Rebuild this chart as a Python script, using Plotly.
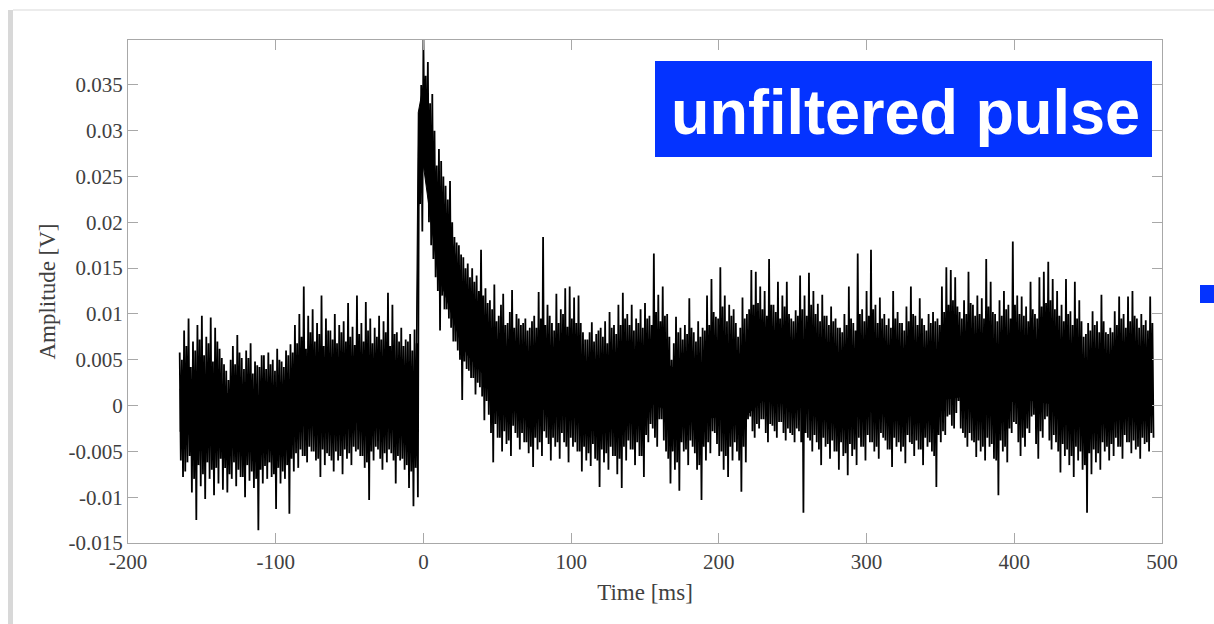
import plotly.graph_objects as go

# sample grid of the trace (ms), 3 ms per column group
time_ms = list(range(-165, 493, 3))

# tallest upward excursion in each 3 ms group (V)
amp_hi = [
    0.0058, 0.0082, 0.0095, 0.0070, 0.0088, 0.0098, 0.0075, 0.0096, 0.0085, 0.0062,
    0.0045, 0.0028, 0.0065, 0.0077, 0.0052, 0.0060, 0.0068, 0.0048, 0.0042, 0.0055,
    0.0058, 0.0050, 0.0062, 0.0048, 0.0060, 0.0067, 0.0088, 0.0100, 0.0130, 0.0098,
    0.0105, 0.0090, 0.0120, 0.0095, 0.0082, 0.0100, 0.0088, 0.0092, 0.0112, 0.0086,
    0.0120, 0.0090, 0.0113, 0.0095, 0.0085, 0.0098, 0.0092, 0.0123, 0.0110, 0.0080,
    0.0085, 0.0072, 0.0078, 0.0083, 0.0320, 0.0399, 0.0375, 0.0340, 0.0262, 0.0267,
    0.0240, 0.0245, 0.0184, 0.0175, 0.0162, 0.0155, 0.0150, 0.0142, 0.0170, 0.0128,
    0.0115, 0.0132, 0.0098, 0.0122, 0.0090, 0.0126, 0.0100, 0.0088, 0.0095, 0.0085,
    0.0098, 0.0124, 0.0184, 0.0110, 0.0090, 0.0122, 0.0105, 0.0128, 0.0130, 0.0118,
    0.0120, 0.0080, 0.0072, 0.0091, 0.0078, 0.0085, 0.0092, 0.0102, 0.0088, 0.0110,
    0.0123, 0.0100, 0.0110, 0.0095, 0.0105, 0.0112, 0.0098, 0.0166, 0.0121, 0.0130,
    0.0100, 0.0050, 0.0097, 0.0085, 0.0088, 0.0117, 0.0080, 0.0092, 0.0085, 0.0120,
    0.0138, 0.0097, 0.0151, 0.0120, 0.0110, 0.0105, 0.0075, 0.0118, 0.0100, 0.0148,
    0.0146, 0.0130, 0.0125, 0.0160, 0.0110, 0.0135, 0.0120, 0.0135, 0.0095, 0.0104,
    0.0142, 0.0120, 0.0145, 0.0125, 0.0111, 0.0121, 0.0098, 0.0108, 0.0095, 0.0085,
    0.0100, 0.0130, 0.0090, 0.0166, 0.0105, 0.0125, 0.0170, 0.0110, 0.0118, 0.0100,
    0.0095, 0.0125, 0.0102, 0.0090, 0.0108, 0.0130, 0.0098, 0.0117, 0.0088, 0.0100,
    0.0102, 0.0095, 0.0130, 0.0151, 0.0148, 0.0140, 0.0102, 0.0115, 0.0146, 0.0110,
    0.0120, 0.0117, 0.0160, 0.0135, 0.0100, 0.0115, 0.0125, 0.0110, 0.0179, 0.0120,
    0.0119, 0.0108, 0.0135, 0.0100, 0.0140, 0.0146, 0.0157, 0.0138, 0.0125, 0.0110,
    0.0138, 0.0103, 0.0135, 0.0115, 0.0075, 0.0090, 0.0103, 0.0092, 0.0121, 0.0080,
    0.0085, 0.0103, 0.0119, 0.0100, 0.0119, 0.0125, 0.0095, 0.0100, 0.0093, 0.0119,
]

# secondary (intermediate) upward excursion in each 3 ms group (V)
amp_hi_b = [
    0.0050, 0.0065, 0.0042, 0.0060, 0.0072, 0.0055, 0.0068, 0.0048, 0.0070, 0.0052,
    0.0038, 0.0050, 0.0045, 0.0058, 0.0040, 0.0052, 0.0035, 0.0044, 0.0055, 0.0040,
    0.0045, 0.0038, 0.0050, 0.0042, 0.0055, 0.0058, 0.0068, 0.0075, 0.0062, 0.0080,
    0.0070, 0.0078, 0.0065, 0.0082, 0.0072, 0.0068, 0.0080, 0.0070, 0.0075, 0.0066,
    0.0078, 0.0070, 0.0082, 0.0068, 0.0075, 0.0072, 0.0080, 0.0065, 0.0078, 0.0070,
    0.0065, 0.0070, 0.0060, 0.0068, 0.0350, 0.0360, 0.0330, 0.0300, 0.0280, 0.0250,
    0.0225, 0.0200, 0.0178, 0.0165, 0.0150, 0.0140, 0.0135, 0.0125, 0.0120, 0.0112,
    0.0105, 0.0092, 0.0110, 0.0088, 0.0102, 0.0085, 0.0095, 0.0090, 0.0082, 0.0092,
    0.0085, 0.0095, 0.0088, 0.0098, 0.0082, 0.0090, 0.0100, 0.0086, 0.0095, 0.0090,
    0.0090, 0.0072, 0.0080, 0.0070, 0.0082, 0.0075, 0.0068, 0.0085, 0.0078, 0.0088,
    0.0095, 0.0088, 0.0082, 0.0090, 0.0085, 0.0095, 0.0088, 0.0102, 0.0092, 0.0098,
    0.0075, 0.0068, 0.0080, 0.0072, 0.0078, 0.0085, 0.0070, 0.0075, 0.0082, 0.0088,
    0.0102, 0.0095, 0.0108, 0.0092, 0.0098, 0.0090, 0.0085, 0.0095, 0.0105, 0.0110,
    0.0112, 0.0105, 0.0098, 0.0110, 0.0102, 0.0095, 0.0108, 0.0100, 0.0092, 0.0098,
    0.0105, 0.0098, 0.0110, 0.0100, 0.0092, 0.0098, 0.0088, 0.0092, 0.0085, 0.0080,
    0.0088, 0.0095, 0.0082, 0.0100, 0.0092, 0.0098, 0.0105, 0.0090, 0.0095, 0.0088,
    0.0085, 0.0095, 0.0090, 0.0082, 0.0092, 0.0100, 0.0088, 0.0095, 0.0082, 0.0090,
    0.0092, 0.0088, 0.0102, 0.0110, 0.0115, 0.0108, 0.0095, 0.0100, 0.0112, 0.0098,
    0.0100, 0.0095, 0.0108, 0.0102, 0.0092, 0.0098, 0.0105, 0.0095, 0.0110, 0.0100,
    0.0098, 0.0092, 0.0105, 0.0095, 0.0108, 0.0112, 0.0115, 0.0105, 0.0098, 0.0092,
    0.0100, 0.0088, 0.0095, 0.0092, 0.0078, 0.0082, 0.0088, 0.0080, 0.0092, 0.0078,
    0.0080, 0.0088, 0.0095, 0.0085, 0.0092, 0.0098, 0.0085, 0.0088, 0.0082, 0.0090,
]

# deepest downward excursion in each 3 ms group (V)
amp_lo = [
    -0.0078, -0.0062, -0.0095, -0.0125, -0.0088, -0.0102, -0.0080, -0.0098, -0.0085, -0.0092,
    -0.0095, -0.0080, -0.0088, -0.0078, -0.0100, -0.0082, -0.0090, -0.0136, -0.0085, -0.0080,
    -0.0078, -0.0113, -0.0085, -0.0080, -0.0118, -0.0072, -0.0068, -0.0055, -0.0062, -0.0050,
    -0.0060, -0.0078, -0.0065, -0.0055, -0.0072, -0.0060, -0.0075, -0.0058, -0.0065, -0.0050,
    -0.0055, -0.0068, -0.0103, -0.0060, -0.0048, -0.0070, -0.0062, -0.0052, -0.0085, -0.0060,
    -0.0070, -0.0090, -0.0110, -0.0100, 0.0190, 0.0245, 0.0175, 0.0140, 0.0082, 0.0105,
    0.0095, 0.0070, 0.0060, 0.0006, 0.0040, 0.0030, 0.0012, 0.0020, -0.0016, -0.0010,
    -0.0062, -0.0035, -0.0050, -0.0042, -0.0055, -0.0030, -0.0048, -0.0040, -0.0052, -0.0067,
    -0.0048, -0.0055, -0.0035, -0.0060, -0.0045, -0.0058, -0.0040, -0.0062, -0.0045, -0.0050,
    -0.0072, -0.0060, -0.0066, -0.0058, -0.0089, -0.0062, -0.0070, -0.0055, -0.0075, -0.0090,
    -0.0060, -0.0048, -0.0065, -0.0055, -0.0078, -0.0040, -0.0025, -0.0045, -0.0015, -0.0050,
    -0.0085, -0.0070, -0.0093, -0.0050, -0.0065, -0.0045, -0.0070, -0.0103, -0.0060, -0.0052,
    -0.0030, -0.0055, -0.0070, -0.0078, -0.0060, -0.0050, -0.0094, -0.0062, -0.0012, -0.0035,
    -0.0025, -0.0015, -0.0040, -0.0022, -0.0035, -0.0018, -0.0038, -0.0030, -0.0040, -0.0028,
    -0.0117, -0.0035, -0.0050, -0.0040, -0.0065, -0.0045, -0.0058, -0.0050, -0.0070, -0.0055,
    -0.0076, -0.0055, -0.0065, -0.0045, -0.0060, -0.0040, -0.0050, -0.0058, -0.0035, -0.0048,
    -0.0067, -0.0045, -0.0050, -0.0063, -0.0040, -0.0055, -0.0048, -0.0065, -0.0045, -0.0050,
    -0.0089, -0.0040, -0.0032, -0.0010, -0.0025, 0.0005, -0.0030, -0.0045, -0.0038, -0.0056,
    -0.0050, -0.0060, -0.0045, -0.0058, -0.0098, -0.0050, -0.0062, -0.0030, -0.0020, -0.0055,
    -0.0045, -0.0030, -0.0010, -0.0058, -0.0035, -0.0012, -0.0048, -0.0040, -0.0073, -0.0055,
    -0.0065, -0.0078, -0.0060, -0.0070, -0.0117, -0.0075, -0.0062, -0.0070, -0.0050, -0.0060,
    -0.0055, -0.0045, -0.0058, -0.0040, -0.0052, -0.0048, -0.0058, -0.0042, -0.0050, -0.0035,
]

# secondary (intermediate) downward excursion in each 3 ms group (V)
amp_lo_b = [
    -0.0060, -0.0072, -0.0055, -0.0080, -0.0065, -0.0075, -0.0062, -0.0070, -0.0068, -0.0058,
    -0.0068, -0.0075, -0.0062, -0.0070, -0.0078, -0.0065, -0.0072, -0.0080, -0.0070, -0.0066,
    -0.0062, -0.0075, -0.0068, -0.0072, -0.0065, -0.0058, -0.0052, -0.0048, -0.0055, -0.0045,
    -0.0050, -0.0058, -0.0048, -0.0052, -0.0060, -0.0050, -0.0055, -0.0048, -0.0052, -0.0045,
    -0.0048, -0.0055, -0.0062, -0.0050, -0.0045, -0.0058, -0.0052, -0.0048, -0.0060, -0.0055,
    -0.0058, -0.0065, -0.0072, -0.0068, 0.0220, 0.0260, 0.0200, 0.0160, 0.0125, 0.0120,
    0.0105, 0.0085, 0.0070, 0.0050, 0.0048, 0.0038, 0.0030, 0.0025, 0.0010, 0.0005,
    -0.0030, -0.0020, -0.0035, -0.0028, -0.0038, -0.0022, -0.0035, -0.0030, -0.0040, -0.0045,
    -0.0035, -0.0040, -0.0028, -0.0042, -0.0035, -0.0040, -0.0030, -0.0045, -0.0035, -0.0040,
    -0.0050, -0.0045, -0.0052, -0.0042, -0.0060, -0.0048, -0.0052, -0.0045, -0.0055, -0.0058,
    -0.0045, -0.0038, -0.0048, -0.0040, -0.0055, -0.0032, -0.0020, -0.0035, -0.0015, -0.0038,
    -0.0058, -0.0050, -0.0062, -0.0040, -0.0048, -0.0038, -0.0052, -0.0065, -0.0045, -0.0040,
    -0.0028, -0.0042, -0.0050, -0.0055, -0.0045, -0.0040, -0.0060, -0.0045, -0.0015, -0.0028,
    -0.0020, -0.0015, -0.0030, -0.0020, -0.0028, -0.0018, -0.0030, -0.0025, -0.0032, -0.0025,
    -0.0040, -0.0030, -0.0038, -0.0032, -0.0048, -0.0035, -0.0042, -0.0038, -0.0050, -0.0040,
    -0.0052, -0.0042, -0.0048, -0.0035, -0.0045, -0.0032, -0.0040, -0.0045, -0.0030, -0.0038,
    -0.0048, -0.0035, -0.0040, -0.0045, -0.0032, -0.0042, -0.0038, -0.0048, -0.0035, -0.0040,
    -0.0055, -0.0032, -0.0028, -0.0012, -0.0022, -0.0008, -0.0025, -0.0035, -0.0030, -0.0040,
    -0.0038, -0.0045, -0.0035, -0.0042, -0.0060, -0.0038, -0.0045, -0.0025, -0.0018, -0.0040,
    -0.0035, -0.0025, -0.0012, -0.0042, -0.0028, -0.0015, -0.0038, -0.0032, -0.0050, -0.0042,
    -0.0048, -0.0055, -0.0045, -0.0050, -0.0065, -0.0052, -0.0048, -0.0052, -0.0040, -0.0045,
    -0.0042, -0.0035, -0.0045, -0.0032, -0.0040, -0.0038, -0.0045, -0.0035, -0.0040, -0.0030,
]

# solid (densely overplotted) core of the trace, read at coarser times
core_t = [-165, -150, -135, -120, -105, -90, -75, -60, -45, -30, -15, -5, -3.5, 0, 5, 10,
          15, 20, 25, 30, 40, 50, 65, 80, 95, 110, 125, 140, 155, 170, 185, 200, 215,
          230, 245, 260, 275, 290, 305, 320, 335, 350, 365, 380, 395, 410, 425, 440,
          455, 470, 485, 491]
core_top = [0.0018, 0.0022, 0.0014, 0.0008, 0.0010, 0.0020, 0.0026, 0.0028, 0.0030,
            0.0026, 0.0022, 0.0018, 0.0320, 0.0350, 0.0285, 0.0235, 0.0205, 0.0175,
            0.0138, 0.0112, 0.0078, 0.0062, 0.0052, 0.0054, 0.0052, 0.0044, 0.0046,
            0.0052, 0.0056, 0.0040, 0.0042, 0.0060, 0.0056, 0.0064, 0.0060, 0.0062,
            0.0056, 0.0050, 0.0056, 0.0054, 0.0056, 0.0058, 0.0068, 0.0060, 0.0062,
            0.0064, 0.0066, 0.0052, 0.0048, 0.0052, 0.0054, 0.0052]
core_bot = [-0.0028, -0.0036, -0.0032, -0.0040, -0.0038, -0.0028, -0.0018, -0.0022,
            -0.0018, -0.0022, -0.0028, -0.0032, 0.0215, 0.0262, 0.0200, 0.0142, 0.0120,
            0.0095, 0.0070, 0.0055, 0.0035, 0.0010, -0.0004, -0.0004, -0.0004, -0.0012,
            -0.0016, -0.0008, 0.0002, -0.0008, -0.0016, -0.0012, -0.0016, 0.0006,
            0.0002, 0.0000, -0.0004, -0.0008, 0.0000, -0.0006, -0.0004, 0.0006,
            0.0010, 0.0002, 0.0004, 0.0006, 0.0002, -0.0012, -0.0012, -0.0004,
            -0.0006, -0.0004]

x_ticks = [-200, -100, 0, 100, 200, 300, 400, 500]
x_ticktext = ["-200", "-100", "0", "100", "200", "300", "400", "500"]
y_ticks = [-0.015, -0.01, -0.005, 0, 0.005, 0.01, 0.015, 0.02, 0.025, 0.03, 0.035]
y_ticktext = ["-0.015", "-0.01", "-0.005", "0", "0.005", "0.01", "0.015",
              "0.02", "0.025", "0.03", "0.035"]

label_text = "unfiltered pulse"

# interleave the excursions within each 3 ms group: high, low, high, low
xs, ys = [], []
for t, h, lb, hb, l in zip(time_ms, amp_hi, amp_lo_b, amp_hi_b, amp_lo):
    xs += [t, t + 0.75, t + 1.5, t + 2.25]
    ys += [h, lb, hb, l]

fig = go.Figure()
fig.add_trace(go.Scatter(x=core_t + core_t[::-1], y=core_top + core_bot[::-1],
                         mode="lines", fill="toself", fillcolor="black",
                         line=dict(color="black", width=1),
                         hoverinfo="skip", showlegend=False))
fig.add_trace(go.Scatter(x=xs, y=ys, mode="lines",
                         line=dict(color="black", width=1.8, simplify=False),
                         hoverinfo="skip", showlegend=False))

W, H = 1214, 624
ml, mr, mt, mb = 128, 52, 40, 81
pw, ph = W - ml - mr, H - mt - mb

def px(xp):
    return (xp - ml) / pw

def py(yp):
    return (H - mb - yp) / ph

serif = "Liberation Serif, Times New Roman, serif"
axis_common = dict(showline=True, linecolor="#a8a8a8", linewidth=1, mirror="ticks",
                   ticks="inside", ticklen=10, tickcolor="#a8a8a8", tickwidth=1,
                   showgrid=False, zeroline=False,
                   tickfont=dict(family=serif, size=21, color="#404040"))

fig.update_layout(
    width=W, height=H, autosize=False,
    margin=dict(l=ml, r=mr, t=mt, b=mb),
    paper_bgcolor="white", plot_bgcolor="white",
    xaxis=dict(range=[-200, 500], tickvals=x_ticks, ticktext=x_ticktext,
               title=dict(text="Time [ms]", font=dict(family=serif, size=23, color="#404040"),
                          standoff=10),
               **axis_common),
    yaxis=dict(range=[-0.015, 0.0399], tickvals=y_ticks, ticktext=y_ticktext,
               title=dict(text="Amplitude [V]", font=dict(family=serif, size=23, color="#404040"),
                          standoff=6),
               **axis_common),
    shapes=[
        # window frame (left bar and top line)
        dict(type="rect", xref="paper", yref="paper", x0=px(8), x1=px(13), y0=py(624), y1=py(10),
             fillcolor="#d8d8d8", line=dict(width=0), layer="below"),
        dict(type="line", xref="paper", yref="paper", x0=px(13), x1=px(1214), y0=py(10), y1=py(10),
             line=dict(color="#ececec", width=2), layer="below"),
        # blue label box
        dict(type="rect", xref="paper", yref="paper", x0=px(655), x1=px(1152), y0=py(157), y1=py(61),
             fillcolor="#0433ff", line=dict(width=0)),
        # small blue marker at right edge
        dict(type="rect", xref="paper", yref="paper", x0=px(1200), x1=px(1214), y0=py(303), y1=py(285),
             fillcolor="#0433ff", line=dict(width=0)),
    ],
    annotations=[
        dict(text="<b>" + label_text + "</b>", xref="paper", yref="paper",
             x=px(905), y=py(112), xanchor="center", yanchor="middle", showarrow=False,
             font=dict(family="Liberation Sans, Arial, sans-serif", size=63, color="white")),
    ],
)

fig.write_html("out.html")
